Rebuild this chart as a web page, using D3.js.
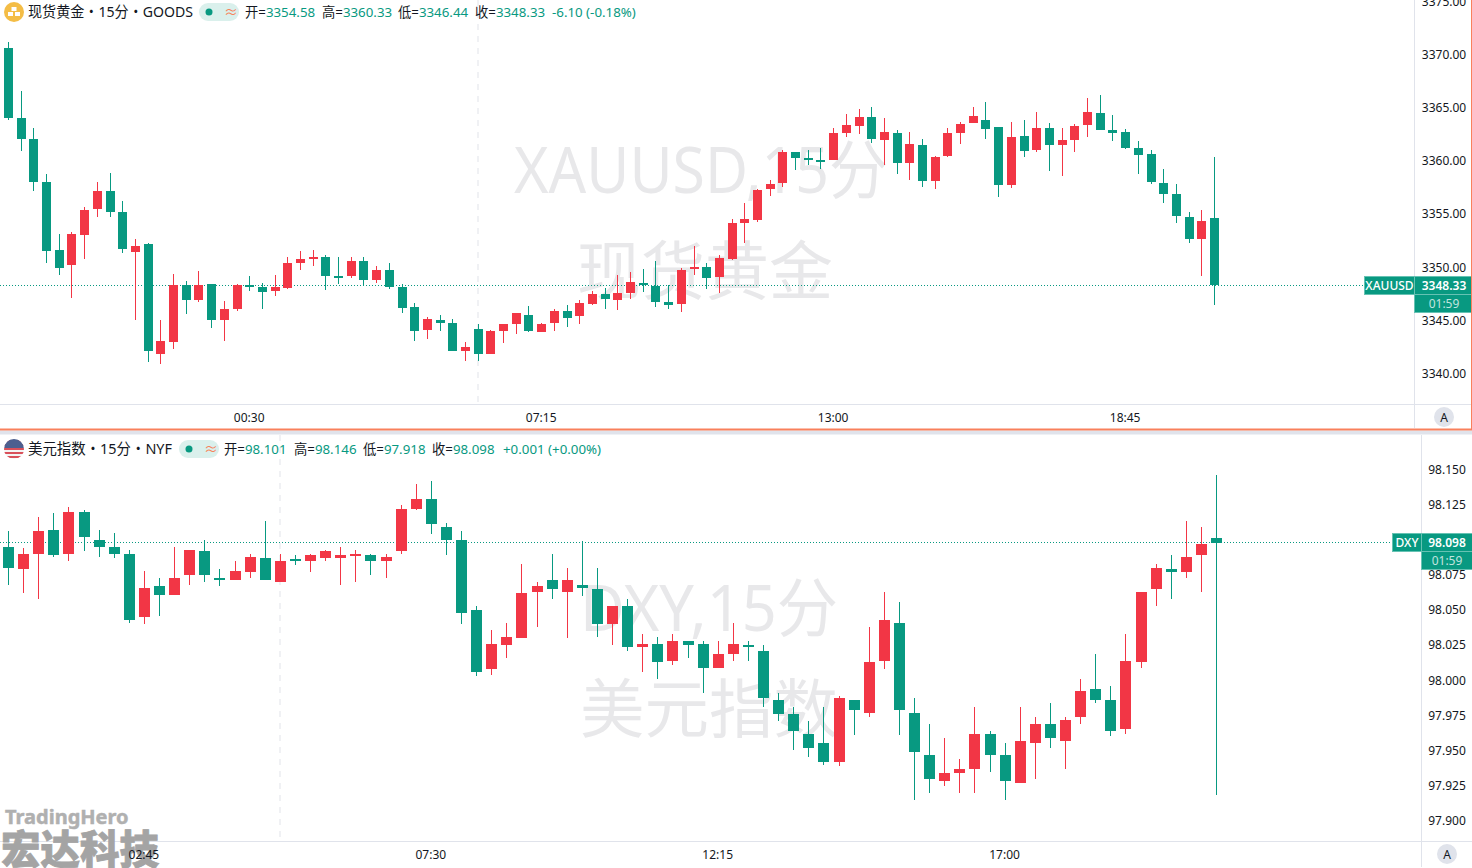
<!DOCTYPE html>
<html>
<head>
<meta charset="utf-8">
<script src="https://cdn.jsdelivr.net/npm/d3@7"></script>
<style>
    html, body { margin: 0; padding: 0; background: #fff; overflow: hidden; }
    svg { display: block; }
    text { font-family: "Noto Sans", "Noto Sans CJK SC", sans-serif; }
</style>
</head>
<body>
<div id="chart"></div>
<script>
// Gold 15m candles
var goldOpen = [3370.62,3364.03,3362.06,3358.01,3351.62,3350.21,3353.03,3355.47,3357.17,3355.19,3351.43,3352.18,3341.84,3342.97,3348.33,3346.92,3348.42,3345.03,3346.07,3348.30,3348.14,3347.76,3348.04,3350.39,3350.77,3350.96,3349.17,3349.17,3350.58,3348.80,3349.73,3348.14,3346.26,3344.09,3345.03,3344.75,3342.12,3344.19,3341.84,3344.00,3344.66,3345.50,3343.91,3344.75,3345.88,3345.41,3346.54,3347.48,3346.92,3347.57,3348.51,3348.23,3346.73,3346.54,3349.83,3350.02,3349.08,3350.77,3354.16,3354.44,3357.35,3357.92,3360.83,3360.27,3360.08,3360.08,3362.62,3363.28,3364.13,3361.96,3362.62,3359.80,3361.49,3358.11,3360.46,3362.62,3363.56,3363.84,3363.19,3357.73,3362.34,3361.02,3363.09,3361.49,3361.96,3363.37,3364.50,3362.90,3362.71,3361.21,3360.65,3357.92,3356.88,3354.72,3352.65,3354.58];
var goldHigh = [3371.18,3366.57,3363.09,3358.76,3353.12,3353.31,3355.66,3358.01,3358.86,3356.23,3352.65,3352.28,3345.03,3349.36,3348.70,3349.64,3348.42,3346.82,3348.42,3349.17,3348.51,3349.27,3350.96,3351.52,3351.62,3351.15,3350.96,3350.96,3350.96,3350.11,3350.39,3348.42,3346.63,3345.32,3345.50,3345.13,3342.97,3344.66,3344.09,3344.66,3345.69,3346.35,3344.75,3346.07,3346.45,3346.92,3347.76,3348.04,3349.27,3349.55,3349.83,3350.58,3348.33,3349.92,3351.99,3350.39,3351.15,3354.53,3356.04,3357.35,3358.20,3361.02,3360.83,3361.02,3361.21,3363.09,3364.41,3364.88,3365.07,3364.03,3362.90,3362.71,3362.06,3360.46,3363.09,3363.66,3365.07,3365.54,3363.19,3363.66,3363.84,3364.60,3363.56,3363.09,3363.47,3365.91,3366.20,3364.31,3363.00,3361.87,3361.02,3359.24,3357.82,3355.19,3355.38,3360.33];
var goldLow = [3363.84,3360.93,3357.17,3350.39,3349.27,3347.10,3350.77,3354.72,3354.72,3351.34,3345.03,3341.08,3340.90,3342.31,3345.60,3346.73,3344.28,3343.06,3345.88,3347.76,3346.07,3347.29,3347.95,3349.73,3350.11,3347.86,3348.42,3348.98,3348.33,3348.51,3347.95,3345.69,3343.06,3343.25,3344.00,3342.12,3341.18,3341.18,3341.84,3342.87,3343.72,3343.91,3343.91,3344.00,3344.38,3344.66,3346.45,3346.07,3345.97,3347.01,3347.67,3346.26,3346.07,3345.79,3349.27,3347.95,3347.57,3350.68,3352.28,3354.25,3356.70,3357.54,3359.14,3359.61,3359.24,3360.08,3362.24,3362.53,3361.68,3359.61,3358.76,3358.20,3357.54,3357.35,3360.37,3361.59,3363.56,3362.06,3356.60,3357.45,3360.37,3360.83,3359.05,3358.58,3360.83,3362.24,3362.90,3361.87,3361.12,3358.76,3357.82,3356.04,3354.16,3352.28,3349.17,3346.44];
var goldClose = [3364.03,3362.06,3358.01,3351.52,3349.92,3353.12,3355.38,3357.17,3355.19,3351.71,3351.99,3342.12,3343.06,3348.33,3346.92,3348.33,3345.03,3346.07,3348.33,3348.14,3347.67,3348.14,3350.39,3350.77,3350.96,3349.17,3349.08,3350.58,3348.80,3349.73,3348.14,3346.16,3344.00,3345.13,3344.75,3342.12,3342.50,3341.84,3344.00,3344.66,3345.69,3344.00,3344.66,3345.88,3345.22,3346.63,3347.48,3347.01,3347.57,3348.61,3348.33,3346.73,3346.45,3349.73,3350.02,3348.98,3350.87,3354.16,3354.53,3357.26,3357.82,3360.83,3360.27,3360.11,3359.99,3362.62,3363.37,3364.13,3362.06,3362.71,3359.80,3361.59,3358.11,3360.37,3362.62,3363.47,3364.22,3363.00,3357.73,3362.24,3360.93,3363.09,3361.49,3361.96,3363.28,3364.60,3362.90,3362.62,3361.21,3360.55,3358.01,3356.88,3354.81,3352.65,3354.35,3348.33];
var goldTicks = [3340,3345,3350,3355,3360,3365,3370,3375];
var goldTimeIndex = [19,42,65,88];
var goldTimeLabels = ["00:30","07:15","13:00","18:45"];

// Dollar index 15m candles
var dxyOpen = [98.095,98.079,98.090,98.107,98.090,98.120,98.100,98.095,98.090,98.045,98.067,98.061,98.075,98.092,98.073,98.071,98.077,98.087,98.070,98.086,98.085,98.087,98.087,98.089,98.089,98.085,98.092,98.122,98.129,98.109,98.100,98.050,98.008,98.025,98.030,98.063,98.071,98.063,98.068,98.065,98.040,98.053,98.024,98.026,98.014,98.028,98.026,98.009,98.019,98.025,98.021,97.986,97.976,97.962,97.955,97.942,97.986,97.977,98.014,98.041,97.977,97.947,97.928,97.934,97.937,97.962,97.947,97.927,97.955,97.969,97.957,97.974,97.994,97.986,97.965,98.013,98.065,98.079,98.077,98.089,98.101];
var dxyHigh = [98.106,98.094,98.116,98.119,98.123,98.121,98.107,98.105,98.093,98.078,98.073,98.095,98.093,98.100,98.079,98.085,98.090,98.113,98.090,98.089,98.090,98.093,98.095,98.093,98.090,98.090,98.125,98.140,98.142,98.112,98.106,98.053,98.036,98.041,98.083,98.070,98.090,98.080,98.099,98.080,98.053,98.058,98.033,98.031,98.033,98.028,98.028,98.028,98.041,98.028,98.025,97.991,97.981,97.971,97.981,97.989,97.986,98.038,98.063,98.056,97.987,97.969,97.959,97.944,97.981,97.964,97.955,97.981,97.974,97.984,97.974,98.001,98.019,97.996,98.033,98.063,98.083,98.089,98.113,98.109,98.146];
var dxyLow = [98.068,98.062,98.058,98.088,98.085,98.092,98.088,98.087,98.041,98.040,98.046,98.061,98.068,98.070,98.067,98.071,98.073,98.071,98.070,98.082,98.077,98.085,98.068,98.070,98.075,98.073,98.090,98.121,98.104,98.089,98.040,98.003,98.004,98.016,98.030,98.038,98.058,98.030,98.060,98.031,98.025,98.021,98.006,98.001,98.011,98.016,97.991,98.009,98.014,98.014,97.981,97.971,97.950,97.945,97.940,97.939,97.961,97.974,98.008,97.961,97.915,97.920,97.925,97.920,97.920,97.935,97.915,97.927,97.930,97.952,97.937,97.969,97.984,97.960,97.962,98.009,98.053,98.058,98.073,98.063,97.918];
var dxyClose = [98.080,98.090,98.106,98.089,98.120,98.102,98.095,98.090,98.043,98.066,98.061,98.073,98.093,98.075,98.072,98.078,98.088,98.071,98.085,98.085,98.089,98.092,98.089,98.090,98.085,98.088,98.122,98.129,98.111,98.100,98.048,98.006,98.026,98.031,98.062,98.067,98.065,98.071,98.066,98.040,98.053,98.024,98.026,98.013,98.028,98.025,98.009,98.019,98.026,98.024,97.987,97.976,97.964,97.952,97.942,97.987,97.979,98.013,98.043,97.979,97.949,97.930,97.934,97.937,97.962,97.947,97.928,97.957,97.969,97.959,97.972,97.992,97.986,97.964,98.014,98.063,98.080,98.077,98.088,98.097,98.098];
var dxyTicks = [97.9,97.925,97.95,97.975,98,98.025,98.05,98.075,98.125,98.15];
var dxyTimeIndex = [9,28,47,66];
var dxyTimeLabels = ["02:45","07:30","12:15","17:00"];

var upColor = "#f23645", downColor = "#089981", grid = "#e0e3eb", inkColor = "#131722";

var svg = d3.select("#chart").append("svg")
    .attr("width", 1472)
    .attr("height", 868);

svg.append("rect").attr("width", 1472).attr("height", 868).attr("fill", "#fff");

function drawPane(p) {
    var g = svg.append("g");

    // price goes to pixels from two axis labels
    var y = d3.scaleLinear().domain(p.yDomain).range(p.yRange);
    var x = d3.scaleLinear().domain([0, p.open.length - 1]).range(p.xRange);

    // session break
    g.append("line")
        .attr("x1", p.breakX).attr("x2", p.breakX)
        .attr("y1", p.top).attr("y2", p.bottom)
        .attr("stroke", "#f0f1f4")
        .attr("stroke-width", 2)
        .attr("stroke-dasharray", "6 6");

    // watermark
    p.watermark.forEach(function(w) {
        g.append("text")
            .attr("x", w.x)
            .attr("y", w.y)
            .attr("text-anchor", "middle")
            .attr("font-size", "64px")
            .attr("fill", "#e8e8ea")
            .attr("textLength", w.width)
            .attr("lengthAdjust", "spacingAndGlyphs")
            .text(w.text);
    });

    // last price line
    var last = p.close[p.close.length - 1];
    var row = Math.floor(y(last) + 0.2);
    g.append("line")
        .attr("x1", 0).attr("x2", p.labelX)
        .attr("y1", row + 0.5).attr("y2", row + 0.5)
        .attr("stroke", downColor)
        .attr("stroke-dasharray", "1 2");

    // candles
    var idx = d3.range(p.open.length);
    var hw = (p.bodyWidth - 1) / 2;
    var candles = g.append("g").attr("shape-rendering", "crispEdges");

    function color(i) { return p.close[i] >= p.open[i] ? upColor : downColor; }

    candles.selectAll(".wick").data(idx).join("rect")
        .attr("class", "wick")
        .attr("x", function(i) { return Math.floor(x(i)); })
        .attr("y", function(i) { return Math.round(y(p.high[i])); })
        .attr("width", 1)
        .attr("height", function(i) { return Math.max(1, Math.round(y(p.low[i])) - Math.round(y(p.high[i]))); })
        .attr("fill", color);

    candles.selectAll(".body").data(idx).join("rect")
        .attr("class", "body")
        .attr("x", function(i) { return Math.floor(x(i)) - hw; })
        .attr("y", function(i) { return Math.round(y(Math.max(p.open[i], p.close[i]))); })
        .attr("width", p.bodyWidth)
        .attr("height", function(i) {
            return Math.max(2, Math.round(y(Math.min(p.open[i], p.close[i]))) - Math.round(y(Math.max(p.open[i], p.close[i]))));
        })
        .attr("fill", color);

    // price axis
    var yAxis = g.append("g")
        .attr("transform", "translate(" + p.axisX + ",0)")
        .call(d3.axisRight(y).tickValues(p.ticks).tickSize(0).tickFormat(d3.format(p.tickFormat)));
    yAxis.select(".domain").remove();
    yAxis.selectAll("text")
        .attr("x", p.tickX - p.axisX)
        .attr("text-anchor", "middle")
        .attr("font-size", "12px")
        .attr("fill", inkColor)
        .attr("font-family", '"Noto Sans", sans-serif');

    // time axis
    var xAxis = g.append("g")
        .attr("class", "time-axis")
        .attr("transform", "translate(-1," + p.bottom + ")")
        .call(d3.axisBottom(x).tickValues(p.timeIndex).tickSize(0)
            .tickFormat(function(d, i) { return p.timeLabels[i]; }));
    xAxis.select(".domain").remove();
    xAxis.selectAll("text")
        .attr("y", 9)
        .attr("font-size", "12px")
        .attr("fill", inkColor)
        .attr("font-family", '"Noto Sans", sans-serif');

    // frame lines
    g.append("line").attr("x1", p.axisX + 0.5).attr("x2", p.axisX + 0.5).attr("y1", p.top).attr("y2", p.axisEnd)
        .attr("stroke", grid);
    g.append("line").attr("x1", 0).attr("x2", 1472).attr("y1", p.bottom + 0.5).attr("y2", p.bottom + 0.5)
        .attr("stroke", grid);

    // last price tags
    var tags = g.append("g").attr("shape-rendering", "crispEdges");
    tags.append("rect").attr("x", p.labelX + 0.5).attr("y", row - 8.5).attr("width", p.axisX - p.labelX).attr("height", 18)
        .attr("fill", downColor).attr("stroke", "#66c2b3");
    tags.append("rect").attr("x", p.axisX + 0.5).attr("y", row - 8.5).attr("width", 1472 - p.axisX).attr("height", 18)
        .attr("fill", downColor).attr("stroke", "#66c2b3");
    tags.append("rect").attr("x", p.axisX + 0.5).attr("y", row + 9.5).attr("width", 1472 - p.axisX).attr("height", 18)
        .attr("fill", downColor).attr("stroke", "#66c2b3");
    g.append("text").attr("x", (p.labelX + p.axisX) / 2 + 0.5).attr("y", row + 5).attr("text-anchor", "middle")
        .attr("font-size", "12px").attr("font-weight", 500).attr("fill", "#fff").text(p.name);
    g.append("text").attr("x", p.tickX).attr("y", row + 5).attr("text-anchor", "middle")
        .attr("font-size", "12px").attr("font-weight", 600).attr("fill", "#fff").text(d3.format(p.tickFormat)(last));
    g.append("text").attr("x", p.tickX).attr("y", row + 23).attr("text-anchor", "middle")
        .attr("font-size", "12px").attr("fill", "#fff").attr("fill-opacity", 0.75).text("01:59");

    // auto button
    g.append("circle").attr("cx", p.tickX).attr("cy", p.bottom + 13).attr("r", 10).attr("fill", grid);
    g.append("text").attr("x", p.tickX).attr("y", p.bottom + 17.5).attr("text-anchor", "middle")
        .attr("font-size", "12px").attr("fill", inkColor).text("A");

    // legend line
    var hy = p.top + p.headerDy;
    g.append("text").attr("x", 28).attr("y", hy).attr("font-size", "15px").attr("fill", inkColor)
        .attr("textLength", p.titleWidth).attr("lengthAdjust", "spacingAndGlyphs").text(p.title);
    g.append("rect").attr("x", p.pillX).attr("y", hy - 14).attr("width", 40).attr("height", 18).attr("rx", 9).attr("fill", "#daf0ec");
    g.append("circle").attr("cx", p.pillX + 10).attr("cy", hy - 5).attr("r", 3.5).attr("fill", downColor);
    g.append("text").attr("x", p.pillX + 25).attr("y", hy).attr("font-size", "14px").attr("fill", "#f7845c").text("≈");

    p.legendKeys.forEach(function(k, i) {
        var t = g.append("text").attr("x", p.legendX[i]).attr("y", hy).attr("font-size", "13.3px").attr("fill", inkColor);
        t.append("tspan").text(k + "=");
        t.append("tspan").attr("fill", downColor).text(d3.format(p.tickFormat)(p.legendValues[i]));
    });
    g.append("text").attr("x", p.changeX).attr("y", hy).attr("font-size", "13.3px").attr("fill", downColor).text(p.change);

    return g;
}

var top_pane = drawPane({
    name: "XAUUSD", title: "现货黄金・15分・GOODS", titleWidth: 165,
    open: goldOpen, high: goldHigh, low: goldLow, close: goldClose,
    ticks: goldTicks, tickFormat: ".2f",
    timeIndex: goldTimeIndex, timeLabels: goldTimeLabels,
    yDomain: [3340, 3370], yRange: [373.5, 54.5],
    xRange: [8.5, 1214.5], bodyWidth: 9,
    top: 0, bottom: 404, axisX: 1414, axisEnd: 428, tickX: 1444, labelX: 1364,
    breakX: 478,
    watermark: [{ text: "XAUUSD,15分", x: 701, y: 193, width: 374 }, { text: "现货黄金", x: 705, y: 294, width: 256 }],
    headerDy: 17, pillX: 199,
    legendKeys: ["开", "高", "低", "收"],
    legendValues: [3354.58, 3360.33, 3346.44, 3348.33],
    legendX: [245, 322, 398, 475], changeX: 552,
    change: "-6.10 (-0.18%)"
});

var bottom_pane = drawPane({
    name: "DXY", title: "美元指数・15分・NYF", titleWidth: 144,
    open: dxyOpen, high: dxyHigh, low: dxyLow, close: dxyClose,
    ticks: dxyTicks, tickFormat: ".3f",
    timeIndex: dxyTimeIndex, timeLabels: dxyTimeLabels,
    yDomain: [97.9, 98.15], yRange: [820.7, 469.5],
    xRange: [8.5, 1216.5], bodyWidth: 11,
    top: 435, bottom: 841, axisX: 1421, axisEnd: 867, tickX: 1447, labelX: 1392,
    breakX: 280,
    watermark: [{ text: "DXY,15分", x: 709, y: 631, width: 258 }, { text: "美元指数", x: 709, y: 732, width: 258 }],
    headerDy: 19, pillX: 179,
    legendKeys: ["开", "高", "低", "收"],
    legendValues: [98.101, 98.146, 97.918, 98.098],
    legendX: [224, 294, 363, 432], changeX: 503,
    change: "+0.001 (+0.00%)"
});

// icons
var gold = svg.append("g").attr("transform", "translate(14,12)");
gold.append("circle").attr("r", 10).attr("fill", "#f4bd46");
gold.append("rect").attr("x", -2.5).attr("y", -5).attr("width", 5).attr("height", 4).attr("fill", "#fff");
gold.append("rect").attr("x", -6).attr("y", 0).attr("width", 5).attr("height", 4).attr("fill", "#fff");
gold.append("rect").attr("x", 1).attr("y", 0).attr("width", 5).attr("height", 4).attr("fill", "#fff");

svg.append("clipPath").attr("id", "flagClip").append("circle").attr("cx", 14).attr("cy", 449).attr("r", 10);
var flagG = svg.append("g").attr("clip-path", "url(#flagClip)");
flagG.append("rect").attr("x", 4).attr("y", 439).attr("width", 20).attr("height", 20).attr("fill", "#f4f4f4");
d3.range(0, 5).forEach(function(i) {
    flagG.append("rect").attr("x", 4).attr("y", 440 + i * 4).attr("width", 20).attr("height", 2).attr("fill", "#d9505a");
});
flagG.append("rect").attr("x", 4).attr("y", 439).attr("width", 20).attr("height", 9).attr("fill", "#4c5f8f");

// active pane frame and the divider
svg.append("rect").attr("x", 0).attr("y", 430.5).attr("width", 1472).attr("height", 4).attr("fill", grid);
svg.append("rect").attr("x", 0).attr("y", 428.5).attr("width", 1472).attr("height", 2).attr("fill", "#f9805c");
svg.append("rect").attr("x", 1471).attr("y", 0).attr("width", 1).attr("height", 430).attr("fill", "#f9805c");

// stamp
svg.append("text").attr("x", 5).attr("y", 824).attr("font-size", "20px").attr("font-weight", "bold")
    .attr("fill", "#b0b0b0").attr("stroke", "#b0b0b0").attr("stroke-width", 0.5).text("TradingHero");
svg.append("text").attr("x", 1).attr("y", 864).attr("font-size", "39.5px").attr("font-weight", "900")
    .attr("fill", "#a4a4a4").attr("stroke", "#a4a4a4").attr("stroke-width", 0.8)
    .attr("font-family", '"Noto Sans CJK SC"').text("宏达科技");

// time labels sit over the stamp
svg.node().appendChild(bottom_pane.select(".time-axis").node());
</script>
</body>
</html>
